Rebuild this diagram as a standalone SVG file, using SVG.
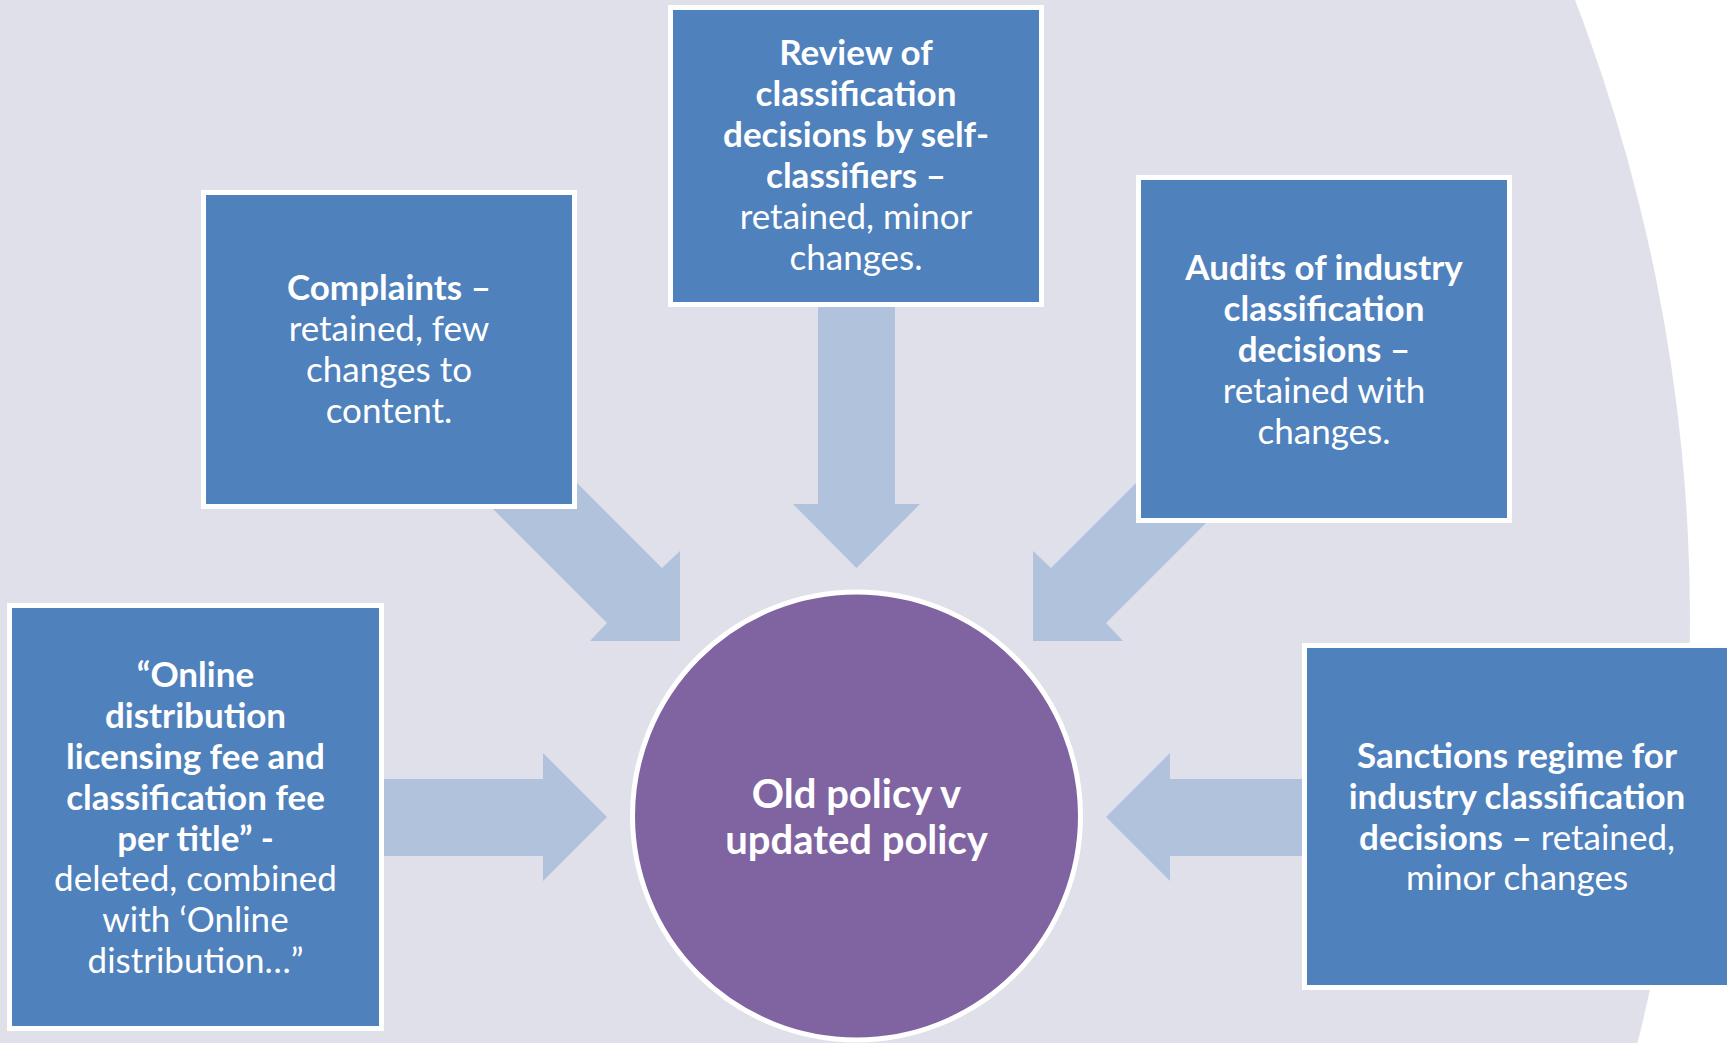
<svg xmlns="http://www.w3.org/2000/svg" width="1733" height="1043" viewBox="0 0 1733 1043">
<style>
.box{fill:#4F81BD;stroke:#FFFFFF;stroke-width:5}
.arrow{fill:#B1C2DC}
.t{font-family:Lato,"Liberation Sans",sans-serif;font-size:35px;fill:#FFFFFF;text-anchor:middle}
.b{font-weight:700}
.r{font-weight:400}
.c{font-family:Lato,"Liberation Sans",sans-serif;font-size:40px;font-weight:700;fill:#FFFFFF;text-anchor:middle}
</style>
<rect x="0" y="0" width="1733" height="1043" fill="#FFFFFF"/>
<circle cx="-39" cy="620" r="1729" fill="#DFE0EA"/>
<g id="connectors">
<polygon class="arrow" points="818,300 895,300 895,504 920,504 856.5,568 793,504 818,504"/>
<polygon class="arrow" points="370,779 543,779 543,753 607,817 543,881 543,856 370,856"/>
<polygon class="arrow" points="1320,779 1170,779 1170,753 1106,817 1170,881 1170,856 1320,856"/>
<polygon class="arrow" points="520,426 662,568 680,551 680,641 590,641 607,623 465,481"/>
<polygon class="arrow" points="1193,426 1051,568 1033,551 1033,641 1123,641 1106,623 1248,481"/>
</g>
<g id="center">
<circle cx="856.5" cy="816" r="224" fill="#8064A2" stroke="#FFFFFF" stroke-width="5"/>
<text class="c" x="856.5" y="808">Old policy v</text>
<text class="c" x="856.5" y="854">updated policy</text>
</g>
<g id="review">
<rect class="box" x="670.5" y="7.5" width="371" height="297"/>
<text class="t b" x="856" y="65">Review of</text>
<text class="t b" x="856" y="106">classification</text>
<text class="t b" x="856" y="147">decisions by self-</text>
<text class="t b" x="856" y="188">classifiers –</text>
<text class="t r" x="856" y="229">retained, minor</text>
<text class="t r" x="856" y="270">changes.</text>
</g>
<g id="complaints">
<rect class="box" x="203.5" y="192.5" width="371" height="314"/>
<text class="t b" x="389" y="300">Complaints –</text>
<text class="t r" x="389" y="341">retained, few</text>
<text class="t r" x="389" y="382">changes to</text>
<text class="t r" x="389" y="423">content.</text>
</g>
<g id="audits">
<rect class="box" x="1138.5" y="177.5" width="371" height="343"/>
<text class="t b" x="1324" y="279.5">Audits of industry</text>
<text class="t b" x="1324" y="320.5">classification</text>
<text class="t b" x="1324" y="361.5">decisions –</text>
<text class="t r" x="1324" y="402.5">retained with</text>
<text class="t r" x="1324" y="443.5">changes.</text>
</g>
<g id="sanctions">
<rect class="box" x="1304.5" y="645.5" width="425" height="342"/>
<text class="t b" x="1517" y="768">Sanctions regime for</text>
<text class="t b" x="1517" y="809">industry classification</text>
<text class="t" x="1517" y="850"><tspan class="b">decisions –</tspan><tspan class="r"> retained,</tspan></text>
<text class="t r" x="1517" y="890">minor changes</text>
</g>
<g id="online">
<rect class="box" x="9.5" y="605.5" width="372" height="423"/>
<text class="t b" x="195.5" y="686.5">“Online</text>
<text class="t b" x="195.5" y="727.5">distribution</text>
<text class="t b" x="195.5" y="768.5">licensing fee and</text>
<text class="t b" x="195.5" y="809.5">classification fee</text>
<text class="t b" x="195.5" y="850.5">per title” -</text>
<text class="t r" x="195.5" y="891">deleted, combined</text>
<text class="t r" x="195.5" y="932">with ‘Online</text>
<text class="t r" x="195.5" y="973">distribution…”</text>
</g>
</svg>
